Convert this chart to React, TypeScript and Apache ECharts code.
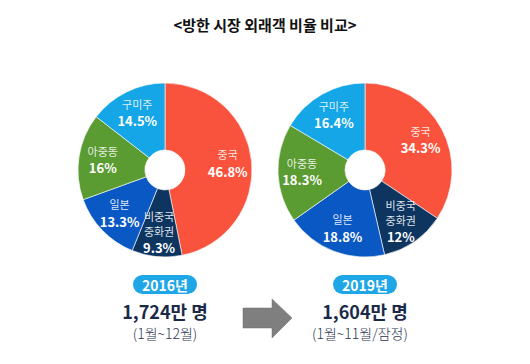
import React, { useEffect, useRef } from "react";
import * as echarts from "echarts";

const title = "<방한 시장 외래객 비율 비교>";
const categories = ["중국", "비중국 중화권", "일본", "아중동", "구미주"];
const values2016 = [46.8, 9.3, 13.3, 16, 14.5];
const values2019 = [34.3, 12, 18.8, 18.3, 16.4];
const sliceColors = ["#F9533D", "#0D3560", "#0A58C4", "#5B9C32", "#15A6E7"];
const years = ["2016년", "2019년"];
const totals = ["1,724만 명", "1,604만 명"];
const periods = ["(1월~12월)", "(1월~11월/잠정)"];

const FONT = "'Noto Sans CJK KR', 'Noto Sans', sans-serif";

export default function App() {
  const ref = useRef<HTMLDivElement>(null);
  useEffect(() => {
    if (!ref.current) return;
    const chart = echarts.init(ref.current, null, { renderer: "svg" });
    const centers = [165, 365];
    const makeSeries = (vals: number[], cx: number) => ({
      type: "pie",
      center: [cx, 170],
      radius: [20, 87],
      startAngle: 90,
      clockwise: true,
      avoidLabelOverlap: false,
      silent: true,
      itemStyle: { borderColor: "#ffffff", borderWidth: 0.6 },
      label: { show: false },
      labelLine: { show: false },
      emphasis: { disabled: true },
      data: categories.map((c, i) => ({ name: c, value: vals[i], itemStyle: { color: sliceColors[i] } })),
    });
    const makeLabelSeries = (vals: number[], cx: number) => ({
      type: "pie",
      center: [cx, 170],
      radius: [0, 120],
      startAngle: 90,
      clockwise: true,
      avoidLabelOverlap: false,
      silent: true,
      z: 5,
      itemStyle: { color: "rgba(0,0,0,0)", borderWidth: 0 },
      label: {
        show: true,
        position: "inside",
        fontFamily: FONT,
        formatter: (p: any) => {
          const lines = String(p.name).split(" ").map((s: string) => `{n|${s}}`);
          return lines.join("\n") + `\n{v|${p.value}%}`;
        },
        rich: {
          n: { fontSize: 11, color: "rgba(255,255,255,0.88)", lineHeight: 15, fontFamily: FONT },
          v: { fontSize: 13, fontWeight: "bold", color: "#ffffff", lineHeight: 19, fontFamily: FONT },
        },
      },
      labelLine: { show: false },
      emphasis: { disabled: true },
      data: categories.map((c, i) => ({ name: c, value: vals[i] })),
    });

    const graphics: any[] = [
      {
        type: "text",
        x: 265,
        y: 24,
        style: {
          text: title,
          fontSize: 15,
          fontWeight: "bold",
          fontFamily: FONT,
          fill: "#111111",
          textAlign: "center",
          textVerticalAlign: "middle",
        },
      },
      {
        type: "polygon",
        shape: {
          points: [
            [243, 308],
            [272, 308],
            [272, 299],
            [292, 318],
            [272, 338],
            [272, 328],
            [243, 328],
          ],
        },
        style: { fill: "#7F7F7F", stroke: "#6E6E6E", lineWidth: 0.5 },
      },
    ];
    centers.forEach((cx, i) => {
      graphics.push({
        type: "rect",
        shape: { x: cx - 32, y: 275, width: 64, height: 19, r: 9.5 },
        style: { fill: "#1EA6E6" },
      });
      graphics.push({
        type: "text",
        x: cx,
        y: 285,
        style: {
          text: years[i],
          fontSize: 14,
          fontWeight: "bold",
          fontFamily: FONT,
          fill: "#ffffff",
          textAlign: "center",
          textVerticalAlign: "middle",
        },
      });
      graphics.push({
        type: "text",
        x: cx,
        y: 311,
        style: {
          text: totals[i],
          fontSize: 18,
          fontWeight: "bold",
          fontFamily: FONT,
          fill: "#1B2A48",
          textAlign: "center",
          textVerticalAlign: "middle",
        },
      });
      graphics.push({
        type: "text",
        x: cx - (i === 1 ? 5 : 0),
        y: 333,
        style: {
          text: periods[i],
          fontSize: 14,
          fontWeight: 300,
          fontFamily: FONT,
          fill: "#2A3550",
          textAlign: "center",
          textVerticalAlign: "middle",
        },
      });
    });

    chart.setOption({
      animation: false,
      backgroundColor: "#ffffff",
      series: [
        makeSeries(values2016, centers[0]),
        makeSeries(values2019, centers[1]),
        makeLabelSeries(values2016, centers[0]),
        makeLabelSeries(values2019, centers[1]),
      ],
      graphic: graphics,
    });
    return () => chart.dispose();
  }, []);
  return (
    <div
      ref={ref}
      style={{ position: "fixed", left: 0, top: 0, width: 530, height: 364, background: "#fff" }}
    />
  );
}
